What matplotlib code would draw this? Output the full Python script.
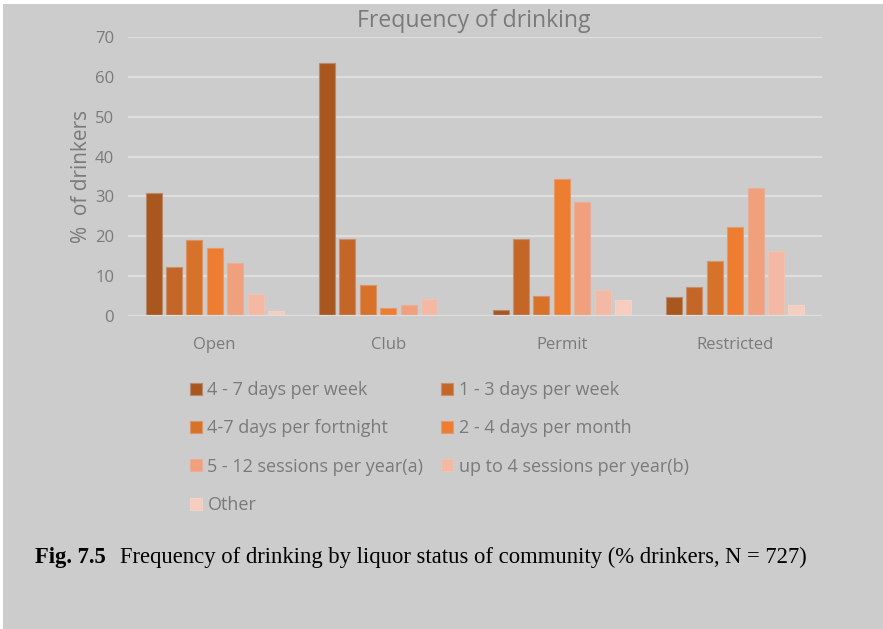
import matplotlib
matplotlib.use("Agg")
import matplotlib.pyplot as plt
import numpy as np
from matplotlib.patches import Rectangle

categories = ["Open", "Club", "Permit", "Restricted"]
series_names = [
    "4 - 7 days per week",
    "1 - 3 days per week",
    "4-7 days per fortnight",
    "2 - 4 days per month",
    "5 - 12 sessions per year(a)",
    "up to 4 sessions per year(b)",
    "Other",
]
s_4_7_week = [30.8, 63.5, 1.5, 4.8]
s_1_3_week = [12.3, 19.2, 19.2, 7.3]
s_4_7_fortnight = [19.1, 7.8, 5.0, 13.8]
s_2_4_month = [17.1, 2.1, 34.4, 22.3]
s_5_12_year = [13.3, 2.8, 28.5, 32.0]
s_upto4_year = [5.6, 4.3, 6.6, 16.3]
s_other = [1.2, 0.0, 4.1, 2.8]
series_values = [s_4_7_week, s_1_3_week, s_4_7_fortnight, s_2_4_month,
                 s_5_12_year, s_upto4_year, s_other]
yticks = [0, 10, 20, 30, 40, 50, 60, 70]

colors = ["#A9571F", "#C46628", "#D6722A", "#ED7D31", "#F0A07C", "#F3B9A4", "#F6CDBE"]
edge_colors = ["#B88A6C", "#C98E6A", "#D9946A", "#E89A6A", "#E8AE96", "#EEC3B4", "#F2D3C8"]

BG = "#CCCCCC"
TXT = "#7A7A7A"
FONT = ["Open Sans", "DejaVu Sans"]
plt.rcParams["font.family"] = FONT

W, H = 883, 629
fig = plt.figure(figsize=(W / 100, H / 100), dpi=100)
fig.patch.set_facecolor("white")
fig.patches.append(Rectangle((3 / W, 0), 1, 1 - 4 / H, transform=fig.transFigure,
                             facecolor=BG, edgecolor="none", zorder=-10))

left, right = 128 / W, 822 / W
bottom, top = 1 - 316 / H, 1 - 37 / H
ax = fig.add_axes([left, bottom, right - left, top - bottom])
ax.set_facecolor(BG)

n = len(series_names)
x = np.arange(len(categories))
bw = 16 / 173.5
step = 20.4 / 173.5
offsets = (np.arange(n) - (n - 1) / 2) * step
for i in range(n):
    ax.bar(x + offsets[i], series_values[i], width=bw, color=colors[i],
           edgecolor=edge_colors[i], linewidth=0.8, label=series_names[i], zorder=3)

ax.set_xlim(-0.5, len(categories) - 0.5)
ax.set_ylim(0, 70)
ax.set_yticks(yticks)
ax.set_yticklabels([str(t) for t in yticks], color=TXT, fontsize=12)
ax.set_xticks(x)
ax.set_xticklabels(categories, color=TXT, fontsize=12)
ax.tick_params(axis="both", length=0)
ax.tick_params(axis="y", pad=10)
ax.tick_params(axis="x", pad=15)
ax.grid(axis="y", color="#DEDEDE", linewidth=1.6, zorder=0)
ax.set_axisbelow(True)
for s in ax.spines.values():
    s.set_visible(False)
ax.axhline(0, color="#DEDEDE", linewidth=1.6, zorder=4)

ax.set_ylabel("%  of drinkers", color=TXT, fontsize=15, labelpad=2)
fig.text(474 / W, 1 - 21 / H, "Frequency of drinking", color=TXT, fontsize=16.6,
         ha="center", va="center")

# legend, row-major order
handles, labels = ax.get_legend_handles_labels()
order = [0, 2, 4, 6, 1, 3, 5]
leg = fig.legend([handles[k] for k in order], [labels[k] for k in order], ncol=2,
                 loc="upper left", bbox_to_anchor=(174 / W, 1 - 365 / H), frameon=False,
                 fontsize=13, labelcolor=TXT, handlelength=0.65, handleheight=0.65,
                 handletextpad=0.3, columnspacing=1.0, labelspacing=1.12)

# caption
fig.text(35 / W, 1 - 557 / H, "Fig. 7.5", family="Liberation Serif", weight="bold",
         fontsize=16.3, color="black", ha="left", va="center")
fig.text(120 / W, 1 - 557 / H,
         "Frequency of drinking by liquor status of community (% drinkers, N = 727)",
         family="Liberation Serif", fontsize=16.3, color="black", ha="left", va="center")

fig.savefig("out.png", dpi=100, facecolor=fig.get_facecolor())
